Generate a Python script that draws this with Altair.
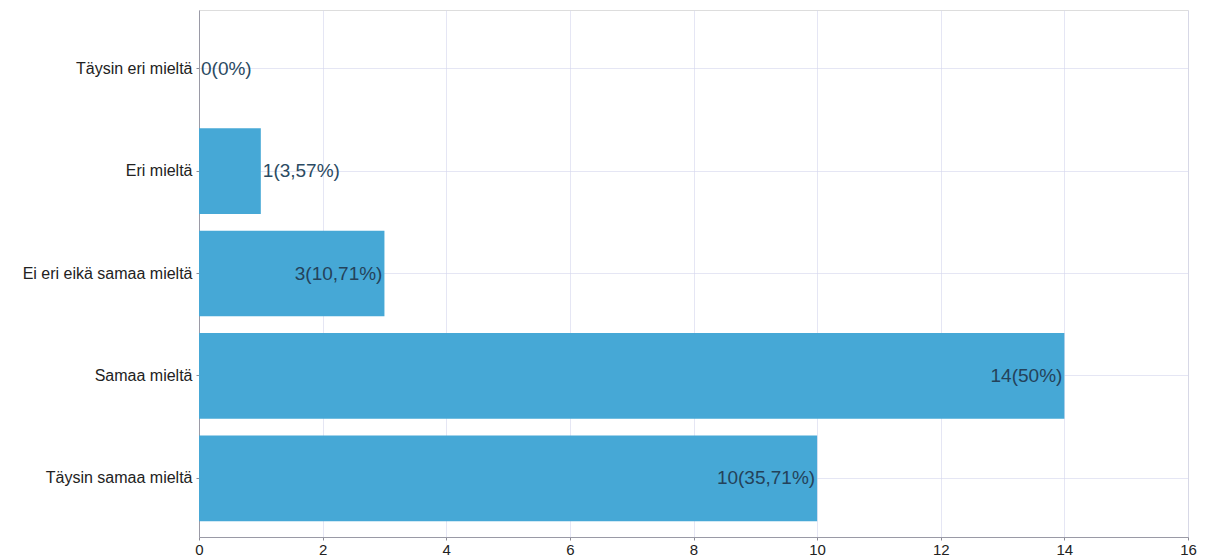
import altair as alt
import pandas as pd

categories = ["Täysin eri mieltä", "Eri mieltä", "Ei eri eikä samaa mieltä", "Samaa mieltä", "Täysin samaa mieltä"]
counts = [0, 1, 3, 14, 10]
percents = ["0", "3,57", "10,71", "50", "35,71"]
x_ticks = [0, 2, 4, 6, 8, 10, 12, 14, 16]

df = pd.DataFrame({
    "cat": categories,
    "n": counts,
    "label": [f"{c}({p}%)" for c, p in zip(counts, percents)],
})

FONT = "Liberation Sans"

y_enc = alt.Y("cat:N", sort=categories,
              scale=alt.Scale(paddingInner=0.163, paddingOuter=0.155),
              axis=alt.Axis(title=None, labelFont=FONT, labelFontSize=16, labelColor="#222222",
                            tickSize=3, tickColor="#8c8c96", labelPadding=4,
                            domainColor="#9a9aa6", gridColor="#d4d6ec", gridOpacity=0.6, grid=True,
                            labelLimit=300))
x_enc = alt.X("n:Q", scale=alt.Scale(domain=[0, 16], nice=False),
              axis=alt.Axis(title=None, values=x_ticks, format="d", labelFont=FONT, labelFontSize=15,
                            labelColor="#222222", tickSize=3, tickColor="#8c8c96", labelPadding=2,
                            domainColor="#9a9aa6", gridColor="#d4d6ec", gridOpacity=0.6,
                            labelFlush=False))

base = alt.Chart(df)

bars = base.mark_bar(color="#46a8d6").encode(x=x_enc, y=y_enc)

inside = base.transform_filter("datum.n >= 3").mark_text(
    align="right", baseline="middle", dx=-2, font=FONT, fontSize=19, color="#24425a"
).encode(x="n:Q", y=alt.Y("cat:N", sort=categories), text="label:N")

outside = base.transform_filter("datum.n < 3").mark_text(
    align="left", baseline="middle", dx=2, font=FONT, fontSize=19, color="#2b4a62"
).encode(x="n:Q", y=alt.Y("cat:N", sort=categories), text="label:N")

chart = alt.layer(bars, inside, outside).properties(
    width=989, height=527,
    autosize=alt.AutoSizeParams(type="none"),
    padding={"left": 191, "top": 2, "right": 10, "bottom": 20},
).configure_view(
    fill="#e4e4f7", stroke="#b4b4c4", strokeWidth=1
).configure(background="white")

chart.save("out.html", embed_options={"renderer": "svg", "actions": False})
